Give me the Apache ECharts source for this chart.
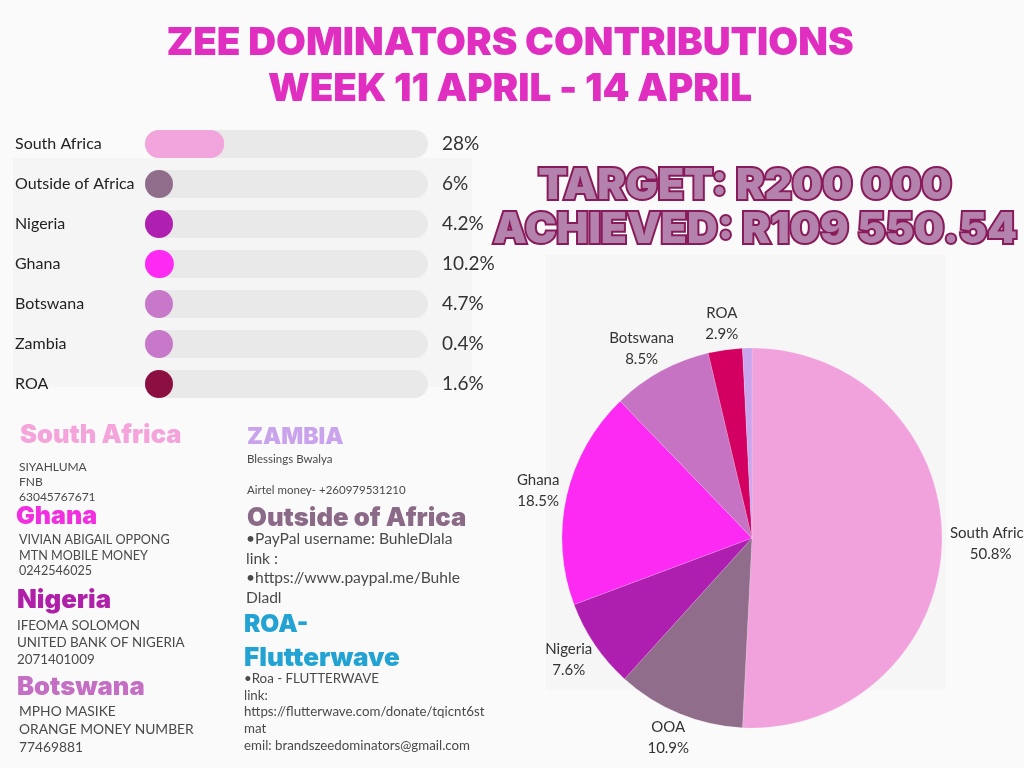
<!DOCTYPE html>
<html><head><meta charset="utf-8">
<script src="https://cdn.jsdelivr.net/npm/echarts@6/dist/echarts.min.js"></script>
<style>html,body{margin:0;padding:0;background:#fafafa}#c{width:1024px;height:768px}</style>
</head><body><div id="c"></div>
<script>
// ---------- data ----------
const barCategories = ['South Africa', 'Outside of Africa', 'Nigeria', 'Ghana', 'Botswana', 'Zambia', 'ROA'];
const barValues = [28, 6, 4.2, 10.2, 4.7, 0.4, 1.6];
const pieCategories = ['South Africa', 'OOA', 'Nigeria', 'Ghana', 'Botswana', 'ROA', 'Zambia'];
const pieValues = [50.8, 10.9, 7.6, 18.5, 8.5, 2.9, 0.8];
const titleLines = ['ZEE DOMINATORS CONTRIBUTIONS', 'WEEK 11 APRIL - 14 APRIL'];
const targetLines = ['TARGET: R200 000', 'ACHIEVED: R109 550.54'];
const infoHeadings = ['South Africa', 'Ghana', 'Nigeria', 'Botswana', 'ZAMBIA', 'Outside of Africa', 'ROA-', 'Flutterwave'];
const infoLines = [
  ['SIYAHLUMA', 'FNB', '63045767671'],
  ['VIVIAN ABIGAIL OPPONG', 'MTN MOBILE MONEY', '0242546025'],
  ['IFEOMA SOLOMON', 'UNITED BANK OF NIGERIA', '2071401009'],
  ['MPHO MASIKE', 'ORANGE MONEY NUMBER', '77469881'],
  ['Blessings Bwalya', '', 'Airtel money- +260979531210'],
  ['•PayPal username: BuhleDlala', 'link :', '•https://www.paypal.me/Buhle', 'Dladl'],
  [],
  ['•Roa - FLUTTERWAVE', 'link:', 'https://flutterwave.com/donate/tqicnt6st', 'mat', 'emil: brandszeedominators@gmail.com']
];

// ---------- styles ----------
const barColors = ['#f2a5dd', '#8f6d8b', '#b020b0', '#fc2af2', '#c778c8', '#c778c8', '#8c0f42'];
const pieColors = ['#f1a2dc', '#8f6d8b', '#ae1fb0', '#fc2af2', '#c673c4', '#d30061', '#c9a6ee'];
const headingColors = ['#f4a3db', '#f22fe0', '#b01fa8', '#c46fc4', '#c9a3ec', '#8b6a88', '#23a3d3', '#23a3d3'];
// layout of info blocks: heading x, heading y, heading size, body x, first line y, line step, line font size
const infoLayout = [
  [20, 435, 25.5, 19, 467, 15, 12],
  [16, 516, 25, 19, 540, 15.5, 12.6],
  [17, 600, 25.8, 17, 626, 17, 13.4],
  [17, 687, 25.6, 19, 712, 18, 13.8],
  [247, 437, 23, 247, 459, 15.5, 11.5],
  [247, 518, 25.7, 246, 539, 19.7, 15.6],
  [244, 625, 24.5, 244, 0, 0, 0],
  [244, 658, 26, 244, 679, 16.6, 13.3]
];

const FONT = 'Lato, "Noto Sans", sans-serif';
const HEAVY = 'Inter, Roboto, "Liberation Sans", sans-serif';
const PIE_C = [752, 538], PIE_R = 190, LABEL_D = 198;

const graphics = [
  { type: 'rect', z: 0, shape: { x: 13, y: 158, width: 459, height: 229 }, style: { fill: '#f5f5f5' } },
  { type: 'rect', z: 0, shape: { x: 546, y: 255, width: 400, height: 435 }, style: { fill: '#f6f6f6' } }
];
const targetX = [745, 755], targetY = [186, 230];
targetLines.forEach((t, i) => graphics.push({
  type: 'text', z: 20, x: targetX[i], y: targetY[i],
  style: {
    text: t, font: '900 42.6px ' + HEAVY, fill: '#b382ad', stroke: '#8a1b5b', lineWidth: 4,
    strokeFirst: true, align: 'center', verticalAlign: 'middle',
    shadowColor: 'rgba(90,20,60,0.45)', shadowOffsetX: 2, shadowOffsetY: 2
  }
}));
infoHeadings.forEach((h, i) => {
  const L = infoLayout[i];
  graphics.push({
    type: 'text', z: 10, x: L[0], y: L[1],
    style: { text: h, font: '900 ' + L[2] + 'px ' + HEAVY, fill: headingColors[i], verticalAlign: 'middle' }
  });
  infoLines[i].forEach((line, j) => graphics.push({
    type: 'text', z: 10, x: L[3], y: L[4] + j * L[5],
    style: { text: line, font: L[6] + 'px ' + FONT, fill: '#4a4a4a', verticalAlign: 'middle' }
  }));
});

// mid angle (clockwise from 12 o'clock) of each pie slice, from the values
const pieTotal = pieValues.reduce((a, b) => a + b, 0);
const pieMid = [];
pieValues.reduce((acc, v) => { pieMid.push((acc + v / 2) / pieTotal * 2 * Math.PI); return acc + v; }, 0);

const chart = echarts.init(document.getElementById('c'));
chart.setOption({
  backgroundColor: '#fafafa',
  animation: false,
  title: {
    text: titleLines.join('\n'), left: 505, top: 15, textAlign: 'center',
    textStyle: { fontFamily: HEAVY, fontWeight: 900, fontSize: 38.6, lineHeight: 46, color: '#e02ec0' }
  },
  grid: { left: 145, width: 283, top: 124, height: 280 },
  xAxis: { type: 'value', min: 0, max: 100, show: false },
  yAxis: {
    type: 'category', inverse: true, data: barCategories,
    axisLine: { show: false }, axisTick: { show: false },
    axisLabel: { align: 'left', margin: 130, fontSize: 16, color: '#222', fontFamily: FONT }
  },
  graphic: graphics,
  series: [
    {
      type: 'custom', z: 5,
      data: barValues.map((v, i) => [v, i]),
      encode: { x: 0, y: 1 },
      renderItem: (params, api) => {
        const i = api.value(1), v = api.value(0);
        const p0 = api.coord([0, i]), p1 = api.coord([100, i]), pv = api.coord([v, i]);
        const h = 28;
        const w = Math.max(pv[0] - p0[0], h);
        return {
          type: 'group', children: [
            { type: 'rect', shape: { x: p0[0], y: p0[1] - h / 2, width: p1[0] - p0[0], height: h, r: h / 2 }, style: { fill: '#e9e9e9' } },
            { type: 'rect', shape: { x: p0[0], y: p0[1] - h / 2, width: w, height: h, r: h / 2 }, style: { fill: barColors[params.dataIndex] } },
            { type: 'text', x: p1[0] + 14, y: p0[1], style: { text: barValues[params.dataIndex] + '%', font: '19px ' + FONT, fill: '#333', verticalAlign: 'middle' } }
          ]
        };
      }
    },
    {
      type: 'pie', z: 5,
      center: PIE_C, radius: PIE_R,
      startAngle: 90, clockwise: true,
      avoidLabelOverlap: false,
      itemStyle: { borderColor: 'rgba(255,255,255,0.3)', borderWidth: 0.5 },
      label: {
        show: true, position: 'outside', formatter: '{n|{b}}\n{n|{c}%}',
        rich: { n: { align: 'center', fontSize: 15, lineHeight: 21, color: '#333', fontFamily: FONT } }
      },
      labelLine: { show: false, length: 5, length2: 0 },
      labelLayout: (p) => {
        const a = pieMid[p.dataIndex];
        const s = Math.sin(a), c = Math.cos(a);
        const w = p.labelRect.width, h = p.labelRect.height;
        return {
          x: PIE_C[0] + LABEL_D * s + w / 2 * s,
          y: PIE_C[1] - LABEL_D * c - h / 2 * c,
          align: 'center', verticalAlign: 'middle'
        };
      },
      emphasis: { disabled: true },
      data: pieCategories.map((n, i) => ({
        name: n, value: pieValues[i], itemStyle: { color: pieColors[i] },
        label: n === 'Zambia' ? { show: false } : undefined
      }))
    }
  ]
});
</script></body></html>
